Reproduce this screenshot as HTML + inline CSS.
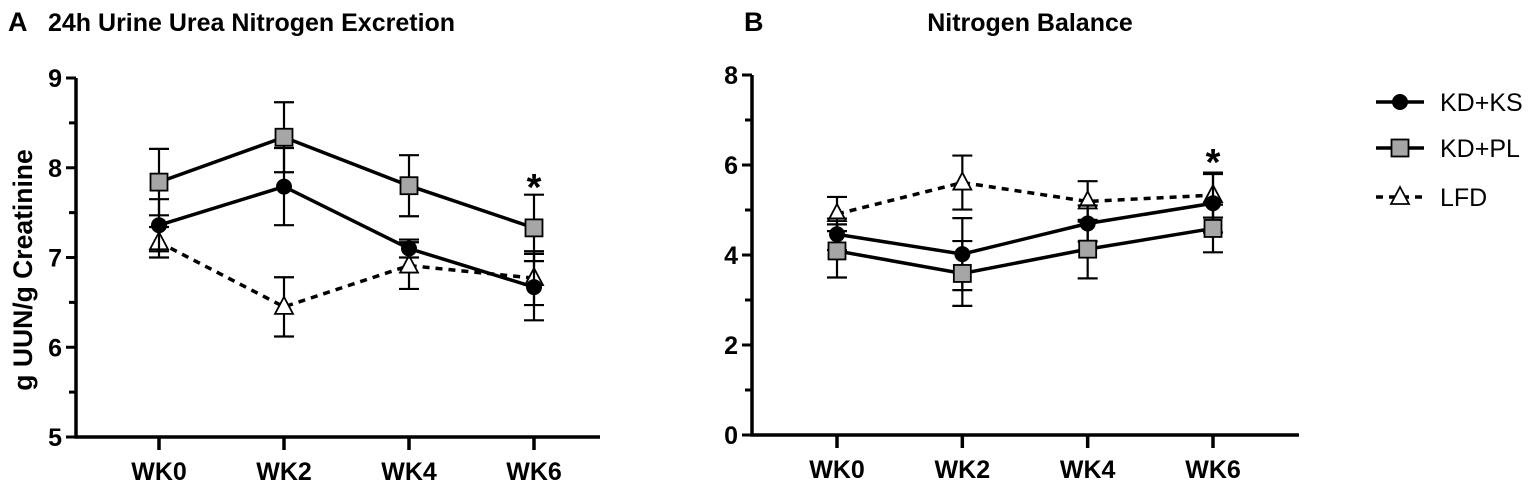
<!DOCTYPE html>
<html><head><meta charset="utf-8"><style>
body{margin:0;background:#fff}
svg text{font-family:"Liberation Sans",Arial,sans-serif}
</style></head><body>
<svg id="c" width="1536" height="486" xmlns="http://www.w3.org/2000/svg">
<text x="8" y="31" font-size="27" font-weight="bold">A</text>
<text x="48" y="31" font-size="25" font-weight="bold">24h Urine Urea Nitrogen Excretion</text>
<text x="744" y="31" font-size="27" font-weight="bold">B</text>
<text x="1030" y="31" font-size="25" font-weight="bold" text-anchor="middle">Nitrogen Balance</text>
<text transform="translate(32,270) rotate(-90)" font-size="26.5" font-weight="bold" text-anchor="middle">g UUN/g Creatinine</text>
<g id="legend"></g>
</svg>
<script>
const categories=["WK0","WK2","WK4","WK6"];
const seriesNames=["KD+KS","KD+PL","LFD"];
const aKS=[7.36,7.79,7.10,6.67], aKSerr=[0.29,0.43,0.10,0.37];
const aPL=[7.84,8.34,7.80,7.33], aPLerr=[0.37,0.39,0.34,0.37];
const aLFD=[7.17,6.45,6.91,6.77], aLFDerr=[0.17,0.33,0.26,0.30];
const aTicks=[5,6,7,8,9];
const bKS=[4.46,4.02,4.70,5.15], bKSerr=[0.35,0.80,0.40,0.65];
const bPL=[4.09,3.59,4.13,4.59], bPLerr=[0.59,0.72,0.65,0.53];
const bLFD=[4.91,5.61,5.19,5.33], bLFDerr=[0.38,0.60,0.45,0.50];
const bTicks=[0,2,4,6,8];
const NS="http://www.w3.org/2000/svg";
const svg=document.getElementById('c');
function mk(tag,at,parent){const e=document.createElementNS(NS,tag);for(const k in at)e.setAttribute(k,at[k]);(parent||svg).appendChild(e);return e;}
function panel(p){
  const g=mk('g',{});
  
  
  const y=v=>p.y0+(v-p.ymin)/(p.ymax-p.ymin)*(p.y1-p.y0);
  const x=i=>p.xs[0]+i*(p.xs[1]-p.xs[0])/3;
  const ax=mk('path',{d:`M${p.ax},${y(p.ymax)} V${p.y0} H${p.xend}`,stroke:'#000','stroke-width':3.5,fill:'none'},g);
  
  
  for(let v=p.ymin;v<=p.ymax+1e-9;v+=p.minor){mk('line',{x1:p.ax-(p.tickVals.includes(+v.toFixed(3))?10:7),x2:p.ax,y1:y(v),y2:y(v),stroke:'#000','stroke-width':3},g);}
  p.tickVals.forEach(v=>{const t=mk('text',{x:p.ax-14,y:y(v)+9,'font-size':25,'font-weight':'bold','text-anchor':'end'},g);t.textContent=v;
    
    });
  categories.forEach((c,i)=>{mk('line',{x1:x(i),x2:x(i),y1:p.y0,y2:p.y0+13,stroke:'#000','stroke-width':3.5},g);
    const t=mk('text',{x:x(i),y:p.y0+43,'font-size':25,'font-weight':'bold','text-anchor':'middle'},g);t.textContent=c;
    
    });
  const sers=[[p.lfd,p.lfdE,'tri','7,6'],[p.ks,p.ksE,'circ',null],[p.pl,p.plE,'sq',null]];
  sers.forEach(([vals,errs,m,dash])=>{
    vals.forEach((v,i)=>{const e=errs[i];
      mk('line',{x1:x(i),x2:x(i),y1:y(v-e),y2:y(v+e),stroke:'#000','stroke-width':2.2},g);
      [v-e,v+e].forEach(q=>mk('line',{x1:x(i)-10,x2:x(i)+10,y1:y(q),y2:y(q),stroke:'#000','stroke-width':2.2},g));});
    const l=mk('polyline',{points:vals.map((v,i)=>x(i)+','+y(v)).join(' '),fill:'none',stroke:'#000','stroke-width':3.5},g);
    if(dash)l.setAttribute('stroke-dasharray',dash);
    
    
    vals.forEach((v,i)=>{const el=marker(m,x(i),y(v),g);
      
      });
  });
  const s=mk('text',{x:x(3),y:p.star,'font-size':38,'font-weight':'bold','text-anchor':'middle'},g);s.textContent='*';
  
  
}
function marker(m,cx,cy,g){
  if(m==='circ')return mk('circle',{cx,cy,r:8,fill:'#000'},g);
  if(m==='sq')return mk('rect',{x:cx-8.5,y:cy-8.5,width:17,height:17,fill:'#a6a6a6',stroke:'#000','stroke-width':1.8},g);
  return mk('polygon',{points:`${cx},${cy-10} ${cx-9},${cy+7} ${cx+9},${cy+7}`,fill:'#fff',stroke:'#000','stroke-width':1.8},g);
}
panel({name:'panel-a-chart',ax:76,xend:600,xs:[159,534],y0:437,y1:78,ymin:5,ymax:9,minor:0.5,tickVals:aTicks,
  ks:aKS,ksE:aKSerr,pl:aPL,plE:aPLerr,lfd:aLFD,lfdE:aLFDerr,star:200});
panel({name:'panel-b-chart',ax:752,xend:1299,xs:[837,1213],y0:435,y1:75,ymin:0,ymax:8,minor:1,tickVals:bTicks,
  ks:bKS,ksE:bKSerr,pl:bPL,plE:bPLerr,lfd:bLFD,lfdE:bLFDerr,star:175});
const lg=document.getElementById('legend');
const lgY=[102,148,197], lgM=['circ','sq','tri'];
seriesNames.forEach((n,i)=>{
  const ln=mk('line',{x1:1376,x2:1424,y1:lgY[i],y2:lgY[i],stroke:'#000','stroke-width':3.5},lg);
  if(lgM[i]==='tri')ln.setAttribute('stroke-dasharray','7,6');
  marker(lgM[i],1400,lgY[i],lg);
  const t=mk('text',{x:1440,y:lgY[i]+9,'font-size':25},lg);t.textContent=n;
  
  
});
</script>
</body></html>
